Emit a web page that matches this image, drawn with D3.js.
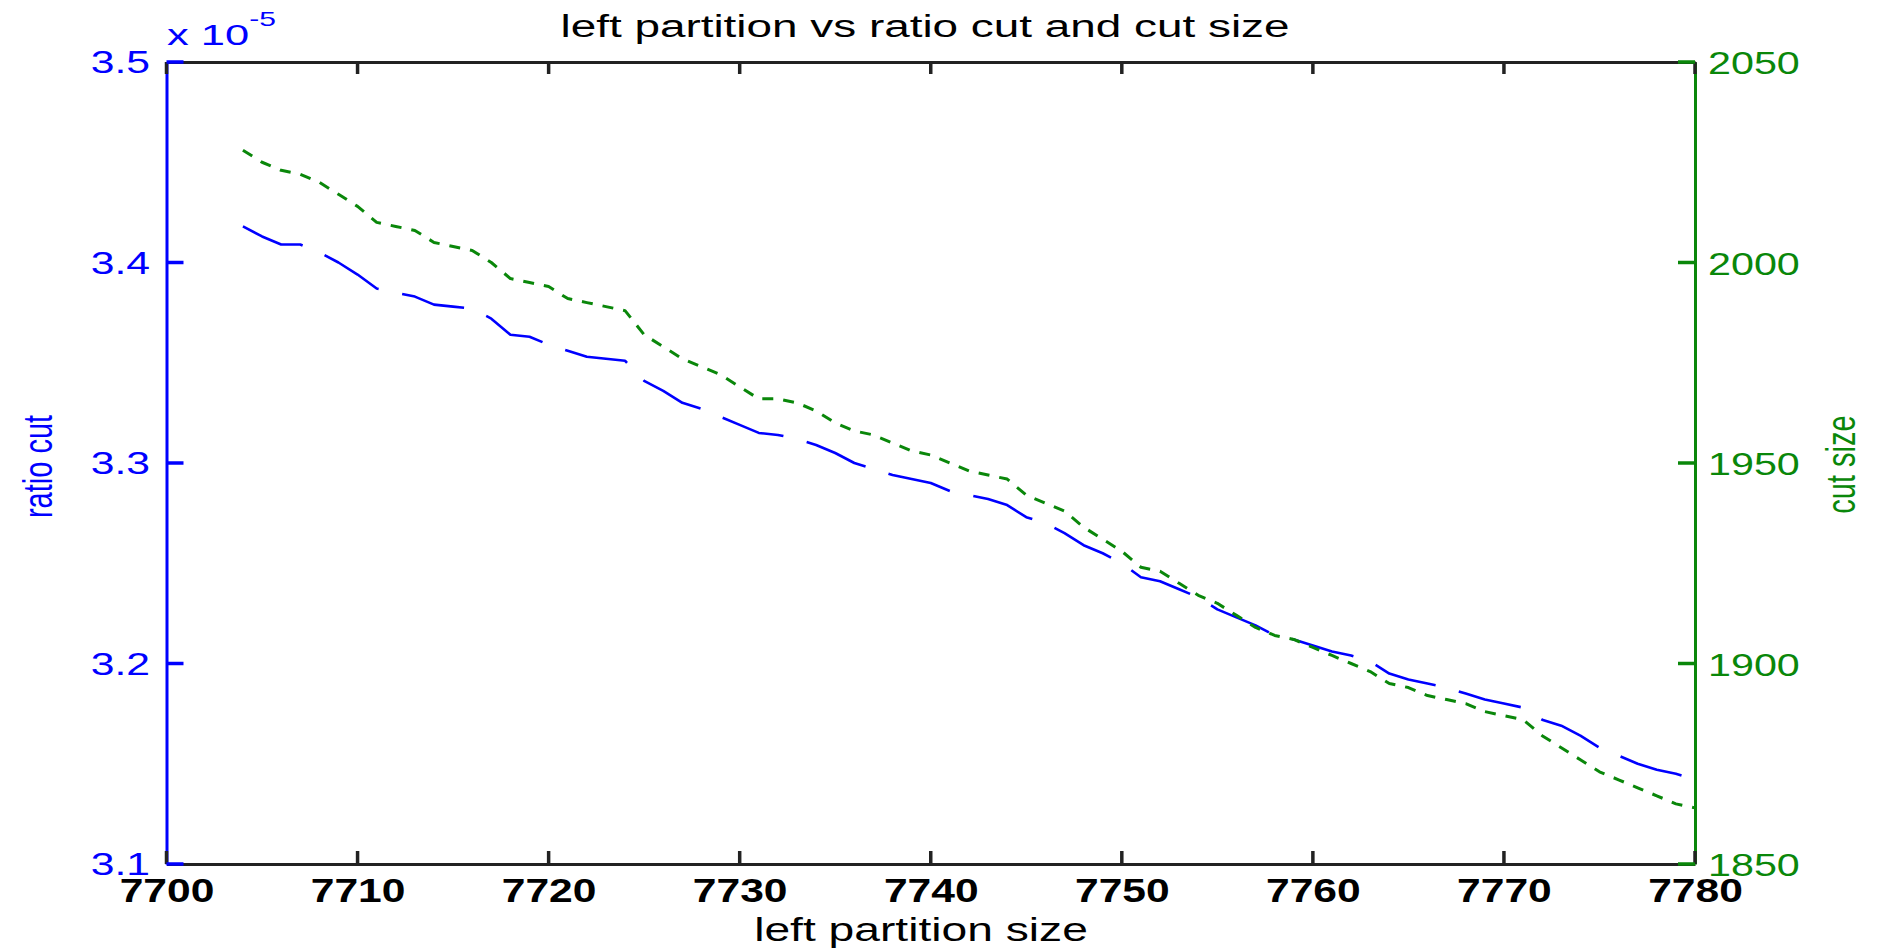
<!DOCTYPE html>
<meta charset="utf-8">
<style type="text/css">
body { margin: 0; background: #ffffff; }
svg text { font-family: "Liberation Sans", Arial, sans-serif; }
.axis path { stroke-width: 3px; fill: none; }
</style>
<body>
<svg id="chart" width="1879" height="950"></svg>
<script src="https://cdnjs.cloudflare.com/ajax/libs/d3/7.8.5/d3.min.js"></script>
<script type="text/javascript">

// left partition size (x)
var leftPartition = [
  7704, 7705, 7706, 7707, 7708, 7709, 7710, 7711, 7712, 7713,
  7714, 7715, 7716, 7717, 7718, 7719, 7720, 7721, 7722, 7723,
  7724, 7725, 7726, 7727, 7728, 7729, 7730, 7731, 7732, 7733,
  7734, 7735, 7736, 7737, 7738, 7739, 7740, 7741, 7742, 7743,
  7744, 7745, 7746, 7747, 7748, 7749, 7750, 7751, 7752, 7753,
  7754, 7755, 7756, 7757, 7758, 7759, 7760, 7761, 7762, 7763,
  7764, 7765, 7766, 7767, 7768, 7769, 7770, 7771, 7772, 7773,
  7774, 7775, 7776, 7777, 7778, 7779, 7780
];

// ratio cut, in units of 1e-5 (left axis)
var ratioCut = [
  3.418, 3.413, 3.409, 3.409, 3.405, 3.400, 3.394, 3.387, 3.385, 3.383,
  3.379, 3.378, 3.377, 3.372, 3.364, 3.363, 3.359, 3.356, 3.353, 3.352,
  3.351, 3.341, 3.336, 3.330, 3.327, 3.323, 3.319, 3.315, 3.314, 3.312,
  3.309, 3.305, 3.300, 3.297, 3.294, 3.292, 3.290, 3.286, 3.284, 3.282,
  3.279, 3.273, 3.270, 3.265, 3.259, 3.255, 3.250, 3.243, 3.241, 3.237,
  3.233, 3.227, 3.223, 3.219, 3.214, 3.212, 3.209, 3.206, 3.204, 3.201,
  3.195, 3.192, 3.190, 3.188, 3.185, 3.182, 3.180, 3.178, 3.172, 3.169,
  3.164, 3.158, 3.154, 3.150, 3.147, 3.145, 3.142
];

// cut size (right axis)
var cutSize = [
  2028, 2025, 2023, 2022, 2020, 2017, 2014, 2010, 2009, 2008,
  2005, 2004, 2003, 2000, 1996, 1995, 1994, 1991, 1990, 1989,
  1988, 1982, 1979, 1976, 1974, 1972, 1969, 1966, 1966, 1965,
  1963, 1960, 1958, 1957, 1955, 1953, 1952, 1950, 1948, 1947,
  1946, 1942, 1940, 1938, 1934, 1931, 1928, 1924, 1923, 1920,
  1917, 1915, 1912, 1909, 1907, 1906, 1904, 1902, 1900, 1898,
  1895, 1894, 1892, 1891, 1890, 1888, 1887, 1886, 1882, 1879,
  1876, 1873, 1871, 1869, 1867, 1865, 1864
];

var xTicks = [7700, 7710, 7720, 7730, 7740, 7750, 7760, 7770, 7780];
var leftTicks = [3.1, 3.2, 3.3, 3.4, 3.5];
var rightTicks = [1850, 1900, 1950, 2000, 2050];

var blue = "#0000ff", green = "#0a870a", black = "#222222";

var svg = d3.select("#chart");
svg.append("rect").attr("width", 1879).attr("height", 950).attr("fill", "#fff");

var plot = {left: 166.5, right: 1695, top: 62, bottom: 864};

var x = d3.scaleLinear().domain([7700, 7780]).range([plot.left, plot.right]);
var yL = d3.scaleLinear().domain([3.1, 3.5]).range([plot.bottom, plot.top]);
var yR = d3.scaleLinear().domain([1850, 2050]).range([plot.bottom, plot.top]);

//data lines
var rows = leftPartition.map(function(d, i) { return {x: d, r: ratioCut[i], c: cutSize[i]}; });

svg.append("path")
  .datum(rows)
  .attr("fill", "none")
  .attr("stroke", blue)
  .attr("stroke-width", 2.6)
  .attr("stroke-linejoin", "round")
  .attr("stroke-dasharray", "64,24")
  .attr("d", d3.line().x(function(d) { return x(d.x); }).y(function(d) { return yL(d.r); }));

svg.append("path")
  .datum(rows)
  .attr("fill", "none")
  .attr("stroke", green)
  .attr("stroke-width", 3)
  .attr("stroke-linejoin", "round")
  .attr("stroke-dasharray", "11,10")
  .attr("d", d3.line().x(function(d) { return x(d.x); }).y(function(d) { return yR(d.c); }));

//top axis line
var topAxis = svg.append("g").attr("class", "axis")
  .attr("transform", "translate(0," + plot.top + ")")
  .call(d3.axisTop(x).tickValues(xTicks).tickSize(0).tickFormat(""));
topAxis.select(".domain").attr("stroke", black);

//bottom axis
var sxX = 1.29;
var bottomAxis = svg.append("g").attr("class", "axis")
  .attr("transform", "translate(0," + plot.bottom + ")")
  .call(d3.axisBottom(x).tickValues(xTicks).tickSize(0).tickFormat(d3.format("d")));
bottomAxis.select(".domain").attr("stroke", black);
bottomAxis.selectAll("text")
  .attr("y", 38).attr("dy", 0)
  .attr("transform", "scale(" + sxX + ",1)")
  .attr("fill", "#000")
  .style("font-size", "33px")
  .style("font-weight", "bold");

//left axis
var sxL = 1.4;
var leftAxis = svg.append("g").attr("class", "axis")
  .attr("transform", "translate(" + plot.left + ",0)")
  .call(d3.axisLeft(yL).tickValues(leftTicks).tickSize(0).tickFormat(d3.format(".1f")));
leftAxis.select(".domain").attr("stroke", blue);
leftAxis.selectAll("text")
  .attr("x", -16.5 / sxL).attr("dy", "0.36em")
  .attr("transform", "scale(" + sxL + ",1)")
  .attr("fill", blue)
  .style("font-size", "30.5px");

//right axis
var sxR = 1.29;
var rightAxis = svg.append("g").attr("class", "axis")
  .attr("transform", "translate(" + plot.right + ",0)")
  .call(d3.axisRight(yR).tickValues(rightTicks).tickSize(0).tickFormat(d3.format("d")));
rightAxis.select(".domain").attr("stroke", green);
rightAxis.selectAll("text")
  .attr("x", 13 / sxR).attr("dy", "0.36em")
  .attr("transform", "scale(" + sxR + ",1)")
  .attr("fill", green)
  .style("font-size", "32px");

//inward tick marks
var tickG = svg.append("g").attr("fill", "none").attr("stroke-width", 3.5);
tickG.selectAll("line.xb").data(xTicks).enter().append("line")
  .attr("class", "xb").attr("stroke", black)
  .attr("x1", function(d) { return x(d); }).attr("x2", function(d) { return x(d); })
  .attr("y1", plot.bottom).attr("y2", plot.bottom - 13);
tickG.selectAll("line.xt").data(xTicks).enter().append("line")
  .attr("class", "xt").attr("stroke", black)
  .attr("x1", function(d) { return x(d); }).attr("x2", function(d) { return x(d); })
  .attr("y1", plot.top).attr("y2", plot.top + 12);
tickG.selectAll("line.yl").data(leftTicks).enter().append("line")
  .attr("class", "yl").attr("stroke", blue)
  .attr("x1", plot.left).attr("x2", plot.left + 17)
  .attr("y1", function(d) { return yL(d); }).attr("y2", function(d) { return yL(d); });
tickG.selectAll("line.yr").data(rightTicks).enter().append("line")
  .attr("class", "yr").attr("stroke", green)
  .attr("x1", plot.right - 17).attr("x2", plot.right)
  .attr("y1", function(d) { return yR(d); }).attr("y2", function(d) { return yR(d); });

//title
svg.append("text")
  .attr("transform", "translate(925,37) scale(1.48,1)")
  .attr("text-anchor", "middle")
  .attr("fill", "#000")
  .style("font-size", "31px")
  .text("left partition vs ratio cut and cut size");

//exponent label
var expo = svg.append("text")
  .attr("transform", "translate(167,45) scale(1.5,1)")
  .attr("fill", blue)
  .style("font-size", "29px")
  .text("x 10");
expo.append("tspan").attr("dy", -19).style("font-size", "20px").text("-5");

//x label
svg.append("text")
  .attr("transform", "translate(921,941) scale(1.4,1)")
  .attr("text-anchor", "middle")
  .attr("fill", "#000")
  .style("font-size", "33px")
  .text("left partition size");

//y labels
svg.append("text")
  .attr("transform", "translate(52,466.5) scale(1.4,1) rotate(-90)")
  .attr("text-anchor", "middle")
  .attr("fill", blue)
  .style("font-size", "29px")
  .text("ratio cut");

svg.append("text")
  .attr("transform", "translate(1855,464.5) scale(1.4,1) rotate(-90)")
  .attr("text-anchor", "middle")
  .attr("fill", green)
  .style("font-size", "29px")
  .text("cut size");

</script>
</body>
